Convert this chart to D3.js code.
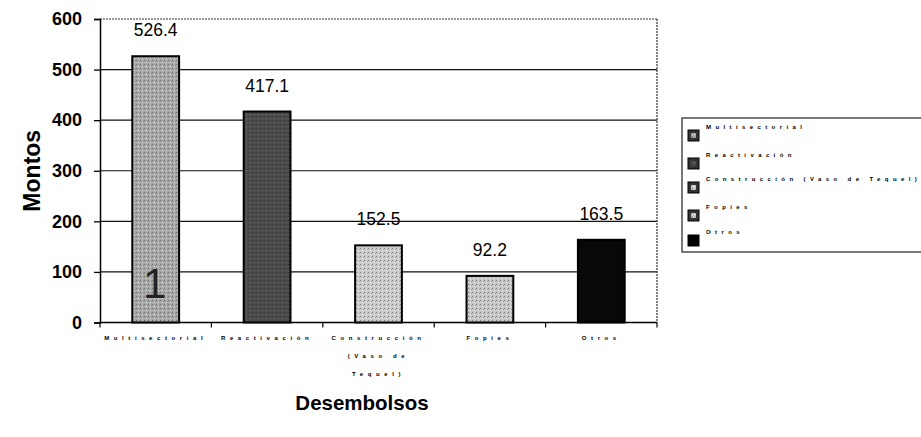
<!DOCTYPE html>
<html><head><meta charset="utf-8">
<script src="https://cdn.jsdelivr.net/npm/d3@7"></script>
<style>body{margin:0;background:#fff}svg{display:block}text{font-family:"Liberation Sans",Arial,sans-serif}</style>
</head><body><svg id="c" width="921" height="437"></svg>
<script>
const categories = ["Multisectorial","Reactivación","Construcción (Vaso de Tequel)","Fopies","Otros"];
const axisLabelLines = [["Multisectorial"],["Reactivación"],["Construcción","(Vaso de","Tequel)"],["Fopies"],["Otros"]];
const values = [526.4, 417.1, 152.5, 92.2, 163.5];
const valueLabels = ["526.4","417.1","152.5","92.2","163.5"];
const yTicks = [0,100,200,300,400,500,600];
const fills = ["#a9a9a9","#4d4d4d","#c9c9c9","#c6c6c6","#080808"];

const svg = d3.select("#c");
const L=100, R=657, T=19, B=322.5;
const x = d3.scaleBand().domain(categories).range([L,R]).paddingInner(0.58).paddingOuter(0.29);
const y = d3.scaleLinear().domain([0,600]).range([B,T]);

// texture patterns
const defs = svg.append("defs");
fills.forEach((f,i)=>{
  const p = defs.append("pattern").attr("id","p"+i).attr("width",4).attr("height",4).attr("patternUnits","userSpaceOnUse");
  p.append("rect").attr("width",4).attr("height",4).attr("fill",f);
  if(i<4){
    const c = d3.color(f);
    p.append("rect").attr("x",0).attr("y",0).attr("width",1).attr("height",1).attr("fill",c.darker(1.2));
    p.append("rect").attr("x",2).attr("y",2).attr("width",1).attr("height",1).attr("fill",c.brighter(0.8));
    p.append("rect").attr("x",3).attr("y",1).attr("width",1).attr("height",1).attr("fill",c.darker(0.6));
  }
});

// gridlines
svg.append("g").selectAll("line").data(yTicks.filter(d=>d>0&&d<600)).join("line")
  .attr("x1",L).attr("x2",R).attr("y1",d=>y(d)).attr("y2",d=>y(d))
  .attr("stroke","#111").attr("stroke-width",1.2);
// top and right border (dotted)
svg.append("line").attr("x1",L).attr("x2",R).attr("y1",T).attr("y2",T).attr("stroke","#333").attr("stroke-width",1.2).attr("stroke-dasharray","2,1");
svg.append("line").attr("x1",R).attr("x2",R).attr("y1",T).attr("y2",B).attr("stroke","#333").attr("stroke-width",1.2).attr("stroke-dasharray","2,1");

// y axis
const ya = d3.axisLeft(y).tickValues(yTicks).tickSize(6).tickPadding(12);
const gy = svg.append("g").attr("transform",`translate(${L},0)`).call(ya);
gy.select(".domain").attr("stroke","#000").attr("stroke-width",1.5);
gy.selectAll(".tick line").attr("stroke","#000").attr("stroke-width",1.3);
gy.selectAll(".tick text").attr("font-size",18).attr("font-weight","bold").attr("fill","#000").attr("font-family","Liberation Sans, Arial, sans-serif");

// x axis baseline and ticks at band boundaries
svg.append("line").attr("x1",L).attr("x2",R).attr("y1",B).attr("y2",B).attr("stroke","#000").attr("stroke-width",1.5);
const bounds = d3.range(categories.length+1).map(i=>L + (R-L)*i/categories.length);
svg.append("g").selectAll("line").data(bounds).join("line")
  .attr("x1",d=>d).attr("x2",d=>d).attr("y1",B).attr("y2",B+5).attr("stroke","#000").attr("stroke-width",1.2);

// bars
svg.append("g").selectAll("rect").data(values).join("rect")
  .attr("x",(d,i)=>x(categories[i])).attr("width",x.bandwidth())
  .attr("y",d=>y(d)).attr("height",d=>B-y(d))
  .attr("fill",(d,i)=>`url(#p${i})`).attr("stroke","#000").attr("stroke-width",2);

// value labels
svg.append("g").selectAll("text").data(values).join("text")
  .attr("x",(d,i)=>x(categories[i])+x.bandwidth()/2)
  .attr("y",d=>y(d)-20)
  .attr("text-anchor","middle").attr("font-size",17.5).attr("fill","#000")
  .text((d,i)=>valueLabels[i]);

// the "1" mark inside first bar
svg.append("text").attr("x",x(categories[0])+x.bandwidth()/2-1).attr("y",y(50)+1)
  .attr("text-anchor","middle").attr("font-size",42).attr("fill","#222").text("1");

// x tick labels (tiny, widely spaced)
const xl = svg.append("g");
axisLabelLines.forEach((lines,i)=>{
  lines.forEach((ln,j)=>{
    xl.append("text").attr("x",x(categories[i])+x.bandwidth()/2).attr("y",B+17+j*18)
      .attr("text-anchor","middle").attr("font-size",6).attr("font-weight","bold")
      .attr("letter-spacing",4.6).attr("fill","#000").text(ln);
  });
});

// axis titles
svg.append("text").attr("transform",`translate(40,${(T+B)/2}) rotate(-90)`)
  .attr("text-anchor","middle").attr("font-size",23).attr("font-weight","bold").text("Montos");
svg.append("text").attr("x",362).attr("y",410)
  .attr("text-anchor","middle").attr("font-size",20.5).attr("font-weight","bold").text("Desembolsos");

// legend
const lg = svg.append("g");
lg.append("rect").attr("x",682).attr("y",118).attr("width",240).attr("height",134)
  .attr("fill","#fff").attr("stroke","#222").attr("stroke-width",1.2);
const lgY = [129,157,181,209,234];
categories.forEach((c,i)=>{
  lg.append("rect").attr("x",688).attr("y",lgY[i]+1).attr("width",11).attr("height",11)
    .attr("fill",i===4?"#000":"#333").attr("stroke","#000");
  if(i<4) lg.append("rect").attr("x",691).attr("y",lgY[i]+4).attr("width",5).attr("height",5).attr("fill",`url(#p${i})`);
  lg.append("text").attr("x",706).attr("y",lgY[i]).attr("font-size",6).attr("font-weight","bold")
    .attr("letter-spacing",4.4).attr("fill","#000").text(c);
});
</script></body></html>
